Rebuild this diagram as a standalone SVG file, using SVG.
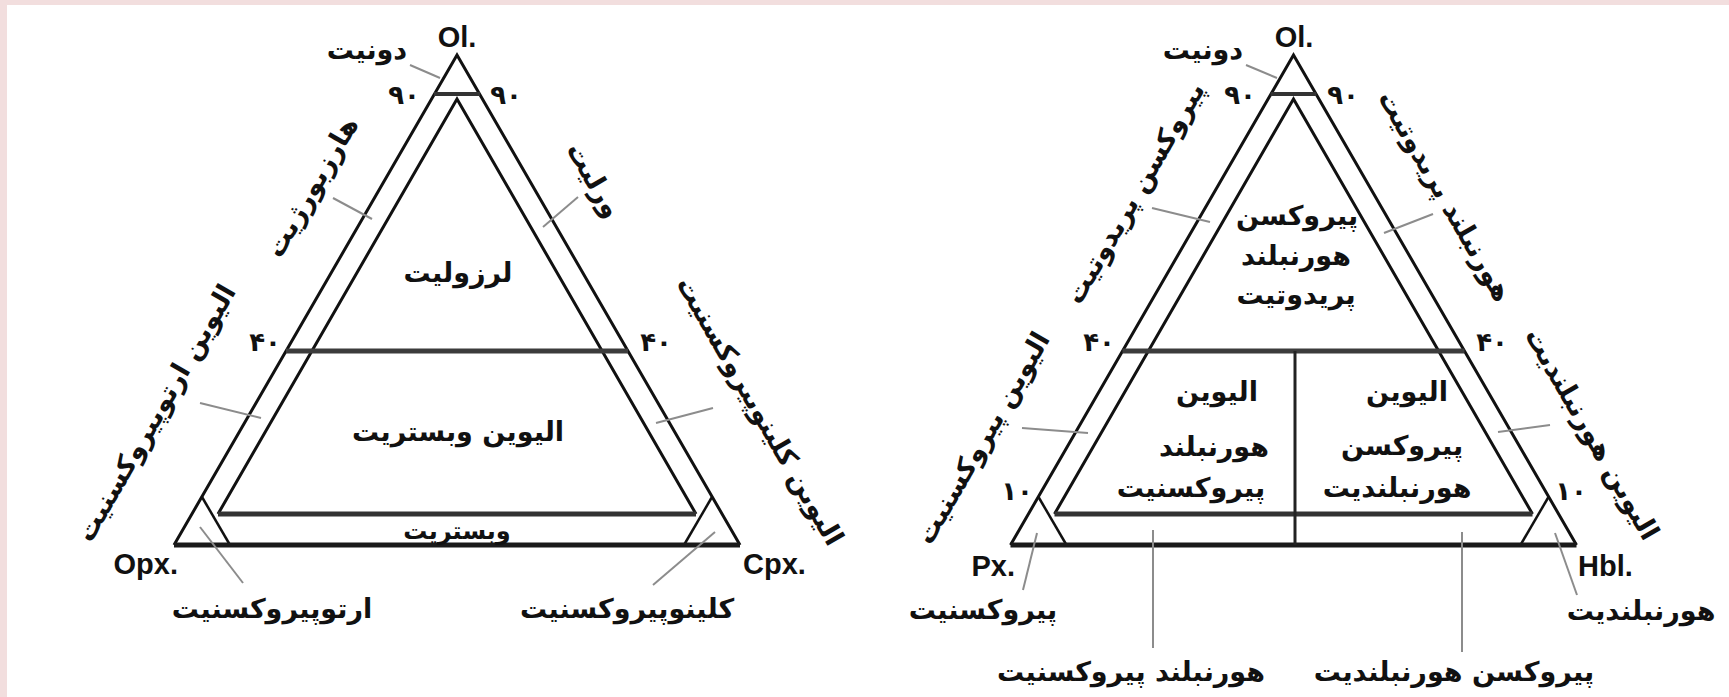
<svg xmlns="http://www.w3.org/2000/svg" xmlns:xlink="http://www.w3.org/1999/xlink" width="1729" height="697" viewBox="0 0 1729 697">
<style>
.side{fill:none;stroke:#111;stroke-width:3;stroke-linejoin:miter}
.corner{stroke:#111;stroke-width:2.5}
.h90{stroke:#333;stroke-width:4}
.h40{stroke:#3c3c3c;stroke-width:5}
.h10{stroke:#333;stroke-width:5}
.base{stroke:#1a1a1a;stroke-width:5}
.div{stroke:#222;stroke-width:3}
.lead{stroke:#8c8c8c;stroke-width:2;fill:none}
.ar{font-family:"DejaVu Sans",sans-serif;font-weight:bold;font-size:27px;fill:#111;text-anchor:middle}
.sm{font-size:24px}
.lat{font-family:"Liberation Sans",Arial,sans-serif;font-weight:bold;font-size:29px;fill:#111}
.num{font-family:"DejaVu Sans",sans-serif;font-weight:bold;font-size:26px;fill:#111;text-anchor:middle}
</style>
<defs>
<g id="frame">
<polyline class="side" points="-283,545 0,55 283,545"/>
<polyline class="side" points="-239,514 0,99 239,514"/>
<line class="corner" x1="-255" y1="497" x2="-227" y2="545"/>
<line class="corner" x1="255" y1="497" x2="227" y2="545"/>
<line class="h90" x1="-23" y1="94" x2="23" y2="94"/>
<line class="h40" x1="-171" y1="351" x2="171" y2="351"/>
<line class="h10" x1="-239" y1="514" x2="239" y2="514"/>
<line class="base" x1="-283" y1="545" x2="283" y2="545"/>
</g>
</defs>
<rect x="0" y="0" width="1729" height="697" fill="#f2dede"/>
<rect x="7" y="5" width="1722" height="692" fill="#ffffff"/>

<g id="left-triangle">
<use xlink:href="#frame" href="#frame" x="457" y="0"/>
<text class="lat" x="457" y="47" text-anchor="middle">Ol.</text>
<text class="lat" x="178" y="574" text-anchor="end">Opx.</text>
<text class="lat" x="743" y="574">Cpx.</text>
<text class="num" x="404" y="104">۹۰</text>
<text class="num" x="506" y="104">۹۰</text>
<text class="num" x="265" y="351">۴۰</text>
<text class="num" x="656" y="351">۴۰</text>
<g id="l-dunite"><text class="ar" x="367" y="59">دونیت</text></g>
<g id="l-harzburgite"><text class="ar" transform="translate(312,187) rotate(-60)" dy="9">هارزبورژیت</text></g>
<g id="l-wehrlite"><text class="ar" transform="translate(594,180) rotate(60)" dy="9">ورلیت</text></g>
<g id="l-lherzolite"><text class="ar" x="458" y="282">لرزولیت</text></g>
<g id="l-olwebsterite"><text class="ar" x="458" y="441">الیوین وبستریت</text></g>
<g id="l-websterite"><text class="ar sm" x="457" y="539">وبستریت</text></g>
<g id="l-olopx"><text class="ar" transform="translate(156,413) rotate(-60)" dy="9">الیوین ارتوپیروکسنیت</text></g>
<g id="l-olcpx"><text class="ar" transform="translate(760,411) rotate(60)" dy="9">الیوین کلینوپیروکسنیت</text></g>
<g id="l-opx"><text class="ar" x="272" y="618">ارتوپیروکسنیت</text></g>
<g id="l-cpx"><text class="ar" x="627" y="618">کلینوپیروکسنیت</text></g>
</g>

<g id="right-triangle">
<use xlink:href="#frame" href="#frame" x="1293.5" y="0"/>
<line class="div" x1="1295" y1="351" x2="1295" y2="545"/>
<text class="lat" x="1294" y="47" text-anchor="middle">Ol.</text>
<text class="lat" x="1015" y="576" text-anchor="end">Px.</text>
<text class="lat" x="1578" y="576">Hbl.</text>
<text class="num" x="1240" y="104">۹۰</text>
<text class="num" x="1343" y="104">۹۰</text>
<text class="num" x="1099" y="351">۴۰</text>
<text class="num" x="1492" y="351">۴۰</text>
<text class="num" x="1017" y="500">۱۰</text>
<text class="num" x="1571" y="500">۱۰</text>
<g id="r-dunite"><text class="ar" x="1203" y="59">دونیت</text></g>
<g id="r-pxperidotite"><text class="ar" transform="translate(1135,193) rotate(-60)" dy="9">پیروکسن پریدوتیت</text></g>
<g id="r-hblperidotite"><text class="ar" transform="translate(1445,196) rotate(60)" dy="9">هورنبلند پریدوتیت</text></g>
<g id="r-pxhblperidotite">
<text class="ar" x="1297" y="225">پیروکسن</text>
<text class="ar" x="1296" y="265">هورنبلند</text>
<text class="ar" x="1296" y="304">پریدوتیت</text>
</g>
<g id="r-olhblpyroxenite">
<text class="ar" x="1217" y="401">الیوین</text>
<text class="ar" x="1214" y="456">هورنبلند</text>
<text class="ar" x="1191" y="497">پیروکسنیت</text>
</g>
<g id="r-olpxhornblendite">
<text class="ar" x="1407" y="401">الیوین</text>
<text class="ar" x="1402" y="455">پیروکسن</text>
<text class="ar" x="1397" y="497">هورنبلندیت</text>
</g>
<g id="r-olpyroxenite"><text class="ar" transform="translate(983,438) rotate(-60)" dy="9">الیوین پیروکسنیت</text></g>
<g id="r-olhornblendite"><text class="ar" transform="translate(1592,434) rotate(60)" dy="9">الیوین هورنبلندیت</text></g>
<g id="r-pyroxenite"><text class="ar" x="983" y="619">پیروکسنیت</text></g>
<g id="r-hornblendite"><text class="ar" x="1641" y="620">هورنبلندیت</text></g>
<g id="r-hblpyroxenite"><text class="ar" x="1131" y="681">هورنبلند پیروکسنیت</text></g>
<g id="r-pxhornblendite"><text class="ar" x="1454" y="681">پیروکسن هورنبلندیت</text></g>
</g>

<g id="leaders">
<line class="lead" x1="410" y1="65" x2="440" y2="78"/>
<line class="lead" x1="333" y1="198" x2="372" y2="219"/>
<line class="lead" x1="578" y1="197" x2="543" y2="227"/>
<line class="lead" x1="200" y1="403" x2="261" y2="418"/>
<line class="lead" x1="713" y1="408" x2="656" y2="423"/>
<line class="lead" x1="243" y1="583" x2="200" y2="527"/>
<line class="lead" x1="653" y1="585" x2="715" y2="532"/>
<line class="lead" x1="1246" y1="65" x2="1277" y2="78"/>
<line class="lead" x1="1152" y1="208" x2="1210" y2="222"/>
<line class="lead" x1="1433" y1="214" x2="1384" y2="233"/>
<line class="lead" x1="1022" y1="428" x2="1088" y2="433"/>
<line class="lead" x1="1550" y1="425" x2="1498" y2="432"/>
<line class="lead" x1="1023" y1="590" x2="1037" y2="533"/>
<line class="lead" x1="1577" y1="595" x2="1555" y2="533"/>
<line class="lead" x1="1153" y1="530" x2="1153" y2="648"/>
<line class="lead" x1="1462" y1="532" x2="1462" y2="652"/>
</g>
</svg>
